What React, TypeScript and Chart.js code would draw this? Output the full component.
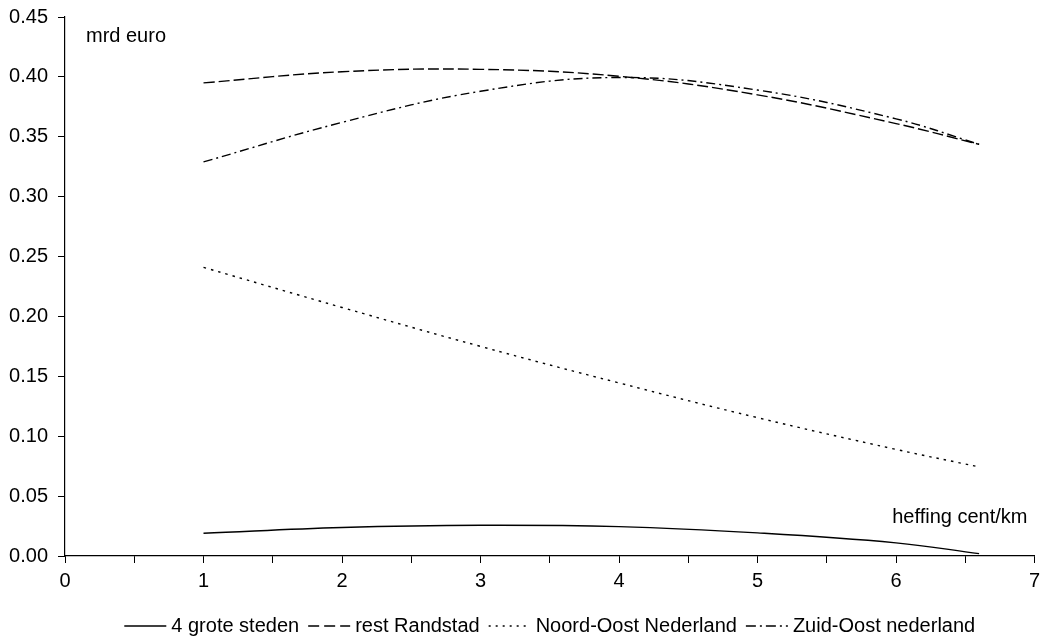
import React, { useEffect, useRef } from 'react';
import { Chart, registerables } from 'chart.js';

Chart.register(...registerables);

// ---- Data ----
const xValues = [1, 2, 3, 4, 5, 6, 6.6];
const groteSteden = [0.019, 0.0238, 0.0257, 0.0245, 0.0193, 0.011, 0.002];
const restRandstad = [0.395, 0.4043, 0.4063, 0.4005, 0.385, 0.361, 0.3437];
const noordOost = [0.241, 0.2075, 0.175, 0.1445, 0.1155, 0.089, 0.0744];
const zuidOost = [0.329, 0.362, 0.388, 0.3995, 0.389, 0.365, 0.3437];
const seriesNames = ['4 grote steden', 'rest Randstad', 'Noord-Oost Nederland', 'Zuid-Oost nederland'];
const seriesValues = [groteSteden, restRandstad, noordOost, zuidOost];
const seriesDashes = [[], [11, 4], [2.5, 5], [9, 4, 2, 4]];
const legendDashes = [[], [11, 5], [2, 5], [10, 4, 2, 4]];
const yAxisTitle = 'mrd euro';
const xAxisTitle = 'heffing cent/km';

const FONT = '"Liberation Sans", Arial, Helvetica, sans-serif';

const annotationPlugin = {
  id: 'annotations',
  afterDraw(chart: any) {
    const { ctx, chartArea } = chart;
    ctx.save();
    ctx.fillStyle = '#000';
    ctx.textBaseline = 'alphabetic';
    ctx.textAlign = 'left';
    ctx.font = `20px ${FONT}`;
    ctx.fillText(yAxisTitle, chartArea.left + 21, chartArea.top + 25);
    ctx.textAlign = 'right';
    ctx.fillText(xAxisTitle, chartArea.right - 7, chartArea.bottom - 33);

    // legend
    ctx.font = `20px ${FONT}`;
    ctx.textAlign = 'left';
    ctx.textBaseline = 'middle';
    const sample = 42;
    const gap = 5;
    const itemGap = 9;
    const widths = seriesNames.map((n) => ctx.measureText(n).width);
    const total = widths.reduce((a: number, w: number) => a + sample + gap + w, 0) + itemGap * (seriesNames.length - 1);
    let x = (chartArea.left + chartArea.right) / 2 - total / 2;
    const y = chartArea.bottom + 70;
    seriesNames.forEach((name, i) => {
      ctx.beginPath();
      ctx.setLineDash(legendDashes[i]);
      ctx.lineWidth = 1.4;
      ctx.strokeStyle = '#000';
      ctx.moveTo(x, y);
      ctx.lineTo(x + sample, y);
      ctx.stroke();
      ctx.setLineDash([]);
      ctx.fillText(name, x + sample + gap, y);
      x += sample + gap + widths[i] + itemGap;
    });
    ctx.restore();
  },
};

export default function App() {
  const canvasRef = useRef<HTMLCanvasElement | null>(null);

  useEffect(() => {
    if (!canvasRef.current) return;
    const chart = new Chart(canvasRef.current, {
      type: 'line',
      data: {
        datasets: seriesNames.map((name, i) => ({
          label: name,
          data: xValues.map((x, j) => ({ x, y: seriesValues[i][j] })),
          borderColor: '#000',
          backgroundColor: '#000',
          borderWidth: 1.4,
          borderDash: seriesDashes[i],
          pointRadius: 0,
          tension: 0.4,
          fill: false,
        })),
      },
      options: {
        animation: false,
        responsive: true,
        maintainAspectRatio: false,
        layout: { padding: { top: 17, left: 0, right: 0, bottom: 0 } },
        plugins: {
          legend: { display: false },
          tooltip: { enabled: false },
        },
        scales: {
          x: {
            type: 'linear',
            min: 0,
            max: 7,
            afterFit: (scale: any) => {
              scale.height = 81;
              scale.paddingRight = 5.5;
              scale.paddingLeft = 0;
            },
            ticks: {
              stepSize: 0.5,
              autoSkip: false,
              maxRotation: 0,
              padding: 6,
              color: '#000',
              font: { family: FONT, size: 20 },
              callback: (v: any) => (Number.isInteger(Number(v)) ? String(v) : ''),
            },
            grid: {
              drawOnChartArea: false,
              drawTicks: true,
              tickLength: 7,
              color: '#000',
              lineWidth: 1,
            },
            border: { display: true, color: '#000', width: 1.2 },
          },
          y: {
            min: 0,
            max: 0.45,
            afterFit: (scale: any) => {
              scale.width = 65;
              scale.paddingTop = 0;
              scale.paddingBottom = 0;
            },
            ticks: {
              stepSize: 0.05,
              padding: 10,
              color: '#000',
              font: { family: FONT, size: 20 },
              callback: (v: any) => Number(v).toFixed(2),
            },
            grid: {
              drawOnChartArea: false,
              drawTicks: true,
              tickLength: 7,
              color: '#000',
              lineWidth: 1,
            },
            border: { display: true, color: '#000', width: 1.2 },
          },
        },
      },
      plugins: [annotationPlugin],
    } as any);
    return () => chart.destroy();
  }, []);

  return (
    <div style={{ position: 'absolute', left: 0, top: 0, width: 1040, height: 637, background: '#fff' }}>
      <canvas ref={canvasRef} />
    </div>
  );
}
